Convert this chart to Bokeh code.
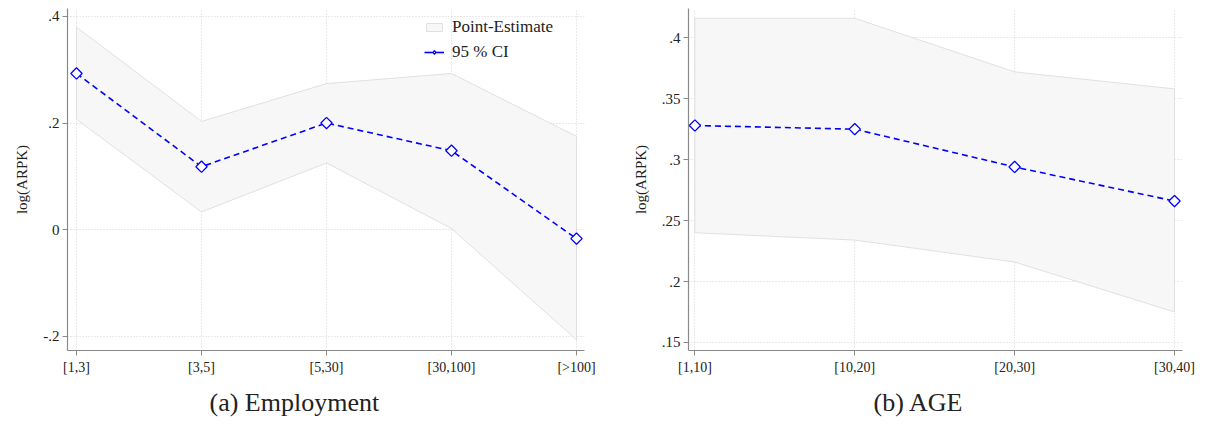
import math
from bokeh.plotting import figure
from bokeh.layouts import row
from bokeh.models import FixedTicker, Legend, LegendItem, Title
from bokeh.embed import file_html
from bokeh.resources import INLINE

# Panel (a): Employment
emp_cats = ["[1,3]", "[3,5]", "[5,30]", "[30,100]", "[>100]"]
emp_point = [0.293, 0.118, 0.200, 0.148, -0.017]
emp_upper = [0.380, 0.203, 0.274, 0.293, 0.175]
emp_lower = [0.207, 0.033, 0.125, 0.002, -0.207]
emp_yticks = [-0.2, 0.0, 0.2, 0.4]
emp_ylabels = ["-.2", "0", ".2", ".4"]

# Panel (b): AGE
age_cats = ["[1,10]", "[10,20]", "[20,30]", "[30,40]"]
age_point = [0.328, 0.325, 0.294, 0.266]
age_upper = [0.416, 0.416, 0.372, 0.358]
age_lower = [0.240, 0.234, 0.216, 0.175]
age_yticks = [0.15, 0.2, 0.25, 0.3, 0.35, 0.4]
age_ylabels = [".15", ".2", ".25", ".3", ".35", ".4"]

SERIF = "Liberation Serif"
BLUE = "#0000ff"


def make_panel(cats, point, upper, lower, yticks, ylabels, yrange, caption,
               width, bl, br, cap_offset, legend=False):
    n = len(cats)
    xs = list(range(n))
    padl = 0.072 if n == 5 else 0.04
    padr = 0.064 if n == 5 else 0.05
    p = figure(width=width, height=438, output_backend="svg", toolbar_location=None,
               x_range=(-padl, n - 1 + padr), y_range=yrange,
               min_border_left=bl, min_border_right=br, min_border_top=8,
               min_border_bottom=88)
    p.outline_line_color = None
    p.background_fill_color = "white"
    p.border_fill_color = "white"

    p.grid.grid_line_color = "#d4d4d4"
    p.grid.grid_line_dash = "1 2"
    p.grid.grid_line_width = 1

    band = p.patch(xs + xs[::-1], upper + lower[::-1], fill_color="#f7f7f7",
                   line_color="#e0e0e0", line_width=1)
    ln = p.line(xs, point, line_color=BLUE, line_width=1.6, line_dash="6 4")
    sc = p.scatter(xs, point, marker="square", angle=math.pi / 4, size=8,
                   fill_color="white", line_color=BLUE, line_width=1.3)

    p.xaxis.ticker = FixedTicker(ticks=xs)
    p.xaxis.major_label_overrides = {i: c for i, c in enumerate(cats)}
    p.yaxis.ticker = FixedTicker(ticks=yticks)
    p.yaxis.major_label_overrides = {t: l for t, l in zip(yticks, ylabels)}
    p.yaxis.axis_label = "log(ARPK)"
    for ax in (p.xaxis, p.yaxis):
        ax.axis_line_color = "#8a8a8a"
        ax.axis_line_width = 1.2
        ax.major_tick_line_color = "#8a8a8a"
        ax.major_tick_out = 5
        ax.major_tick_in = 0
        ax.minor_tick_line_color = None
        ax.major_label_text_font = SERIF
        ax.major_label_text_color = "#222222"
        ax.axis_label_text_font = SERIF
        ax.axis_label_text_font_size = "15px"
        ax.axis_label_text_font_style = "normal"
        ax.axis_label_text_color = "#222222"
    p.xaxis.major_label_text_font_size = "14px"
    p.yaxis.major_label_text_font_size = "15px"
    p.yaxis.major_label_orientation = "horizontal"
    p.yaxis.major_label_standoff = 3
    p.yaxis.axis_label_standoff = 10
    p.xaxis.major_label_standoff = 4

    cap = Title(text=caption, align="left", offset=cap_offset, text_font=SERIF,
                text_font_size="26px", text_font_style="normal",
                text_color="#222222", standoff=16)
    p.add_layout(cap, "below")

    if legend:
        # legend-only glyphs drawn far outside the visible range
        off_x = [-100.0]
        off_y = [-100.0]
        ln_leg = p.line(off_x, off_y, line_color=BLUE, line_width=1.6)
        sc_leg = p.scatter(off_x, off_y, marker="diamond", size=10,
                           fill_color="white", line_color=BLUE, line_width=1.3)
        lg = Legend(items=[LegendItem(label="Point-Estimate", renderers=[band]),
                           LegendItem(label="95 % CI", renderers=[ln_leg, sc_leg])],
                    location=(357, 288), border_line_color=None,
                    background_fill_alpha=0, label_text_font=SERIF,
                    label_text_font_size="17px", glyph_width=20, glyph_height=10,
                    spacing=5, padding=4, margin=0, label_standoff=8,
                    label_text_color="#222222")
        p.add_layout(lg, "center")
    return p


p1 = make_panel(emp_cats, emp_point, emp_upper, emp_lower, emp_yticks, emp_ylabels,
                (-0.227, 0.415), "(a) Employment", 600, 67, 16, 142, legend=True)
p2 = make_panel(age_cats, age_point, age_upper, age_lower, age_yticks, age_ylabels,
                (0.1434, 0.424), "(b) AGE", 621, 88, 39, 185)

layout = row(p1, p2)
open("out.html", "w").write(file_html(layout, INLINE))
